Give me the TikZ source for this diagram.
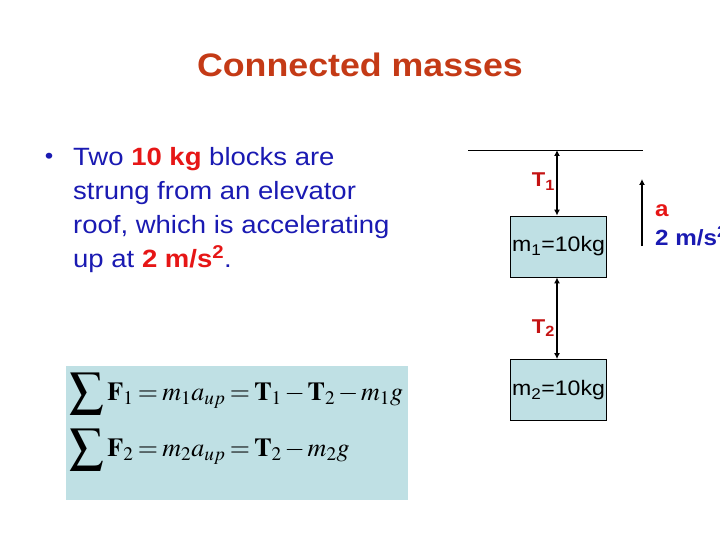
\documentclass[tikz,border=0pt]{standalone}
\usepackage{amsmath}
\usepackage{graphicx}
\usepackage{mathptmx}
\usepackage{fontspec}
\setmainfont{Liberation Sans}[FakeStretch=1.1]
\usetikzlibrary{arrows.meta}
\usepackage{xcolor}
\definecolor{titlered}{RGB}{196,58,22}
\definecolor{textblue}{RGB}{26,26,178}
\definecolor{hotred}{RGB}{230,22,22}
\definecolor{paleblue}{RGB}{191,224,228}
\newcommand{\bigsum}{\mathop{\vcenter{\hbox{\scalebox{1.3}{$\displaystyle\sum$}}}}\nolimits}

\begin{document}
\begin{tikzpicture}[x=1pt,y=-1pt,
    massbox/.style={draw=black,line width=0.8pt,fill=paleblue,minimum width=96pt,minimum height=61pt,inner sep=0pt,font=\fontsize{21}{24}\selectfont},
    rope/.style={line width=1.6pt,{Latex[length=6pt,width=6pt]}-{Latex[length=6pt,width=6pt]}},
    tlabel/.style={text=hotred!85!black,font=\fontsize{20}{22}\selectfont\bfseries,inner sep=0pt}]
		\useasboundingbox (0,0) rectangle (720,540);
		\coordinate (RoofL) at (468,150);
		\coordinate (RoofR) at (643,150);
		\coordinate (Hook)  at (557,150);
		\coordinate (AccTail) at (642,246);
		\coordinate (AccHead) at (642,179);

		\node[anchor=base,text=titlered,font=\fontsize{32.5}{38}\selectfont\bfseries] (Title) at (360,77) {Connected masses};

		\node[text=textblue,font=\fontsize{22}{34}\selectfont] (Bullet) at (49,158) {\textbullet};% bullet of the list
		\node[anchor=north west,inner sep=0pt,align=left,text=textblue,font=\fontsize{25}{34}\selectfont] (Story) at (73,147)
		  {Two \textbf{\color{hotred}10 kg} blocks are\\
		   strung from an elevator\\
		   roof, which is accelerating\\
		   up at \textbf{\color{hotred}2 m/s\textsuperscript{2}}.};

		\draw [thin, black] (RoofL) -- (RoofR);% elevator roof
		\node[massbox] (MassOne) at (558.5,246.5) {m\textsubscript{1}=10kg};
		\node[massbox] (MassTwo) at (558.5,390) {m\textsubscript{2}=10kg};
		\draw [rope] (Hook) -- (Hook |- MassOne.north);
		\draw [rope] (Hook |- MassOne.south) -- (Hook |- MassTwo.north);
		\node[tlabel,anchor=base east] (TOne) at (555,187) {T\textsubscript{1}};
		\node[tlabel,anchor=base east] (TTwo) at (555,333) {T\textsubscript{2}};

		\draw [line width=1.6pt,-{Latex[length=6pt,width=6pt]}] (AccTail) -- (AccHead);% acceleration
		\node[anchor=base west,inner sep=0pt,text=hotred,font=\fontsize{22}{24}\selectfont\bfseries] (ALabel) at (655,216) {a};
		\node[anchor=base west,inner sep=0pt,text=textblue,font=\fontsize{22}{24}\selectfont\bfseries] (AValue) at (655,245) {2 m/s\textsuperscript{2}};

		\node[fill=paleblue,minimum width=342pt,minimum height=134pt,inner sep=0pt] (EqBox) at (237,433) {};% backdrop of the equations
		\node[inner sep=0pt,font=\fontsize{26}{30}\selectfont] (Newton) at (236.5,422)
		  {\thickmuskip=3mu\medmuskip=2mu
		   $\begin{array}{@{}l@{}}
		    \bigsum\mathbf{F}_1 = m_1a_{up} = \mathbf{T}_1 - \mathbf{T}_2 - m_1g\\[20pt]
		    \bigsum\mathbf{F}_2 = m_2a_{up} = \mathbf{T}_2 - m_2g
		  \end{array}$};
	  \end{tikzpicture}
\end{document}
